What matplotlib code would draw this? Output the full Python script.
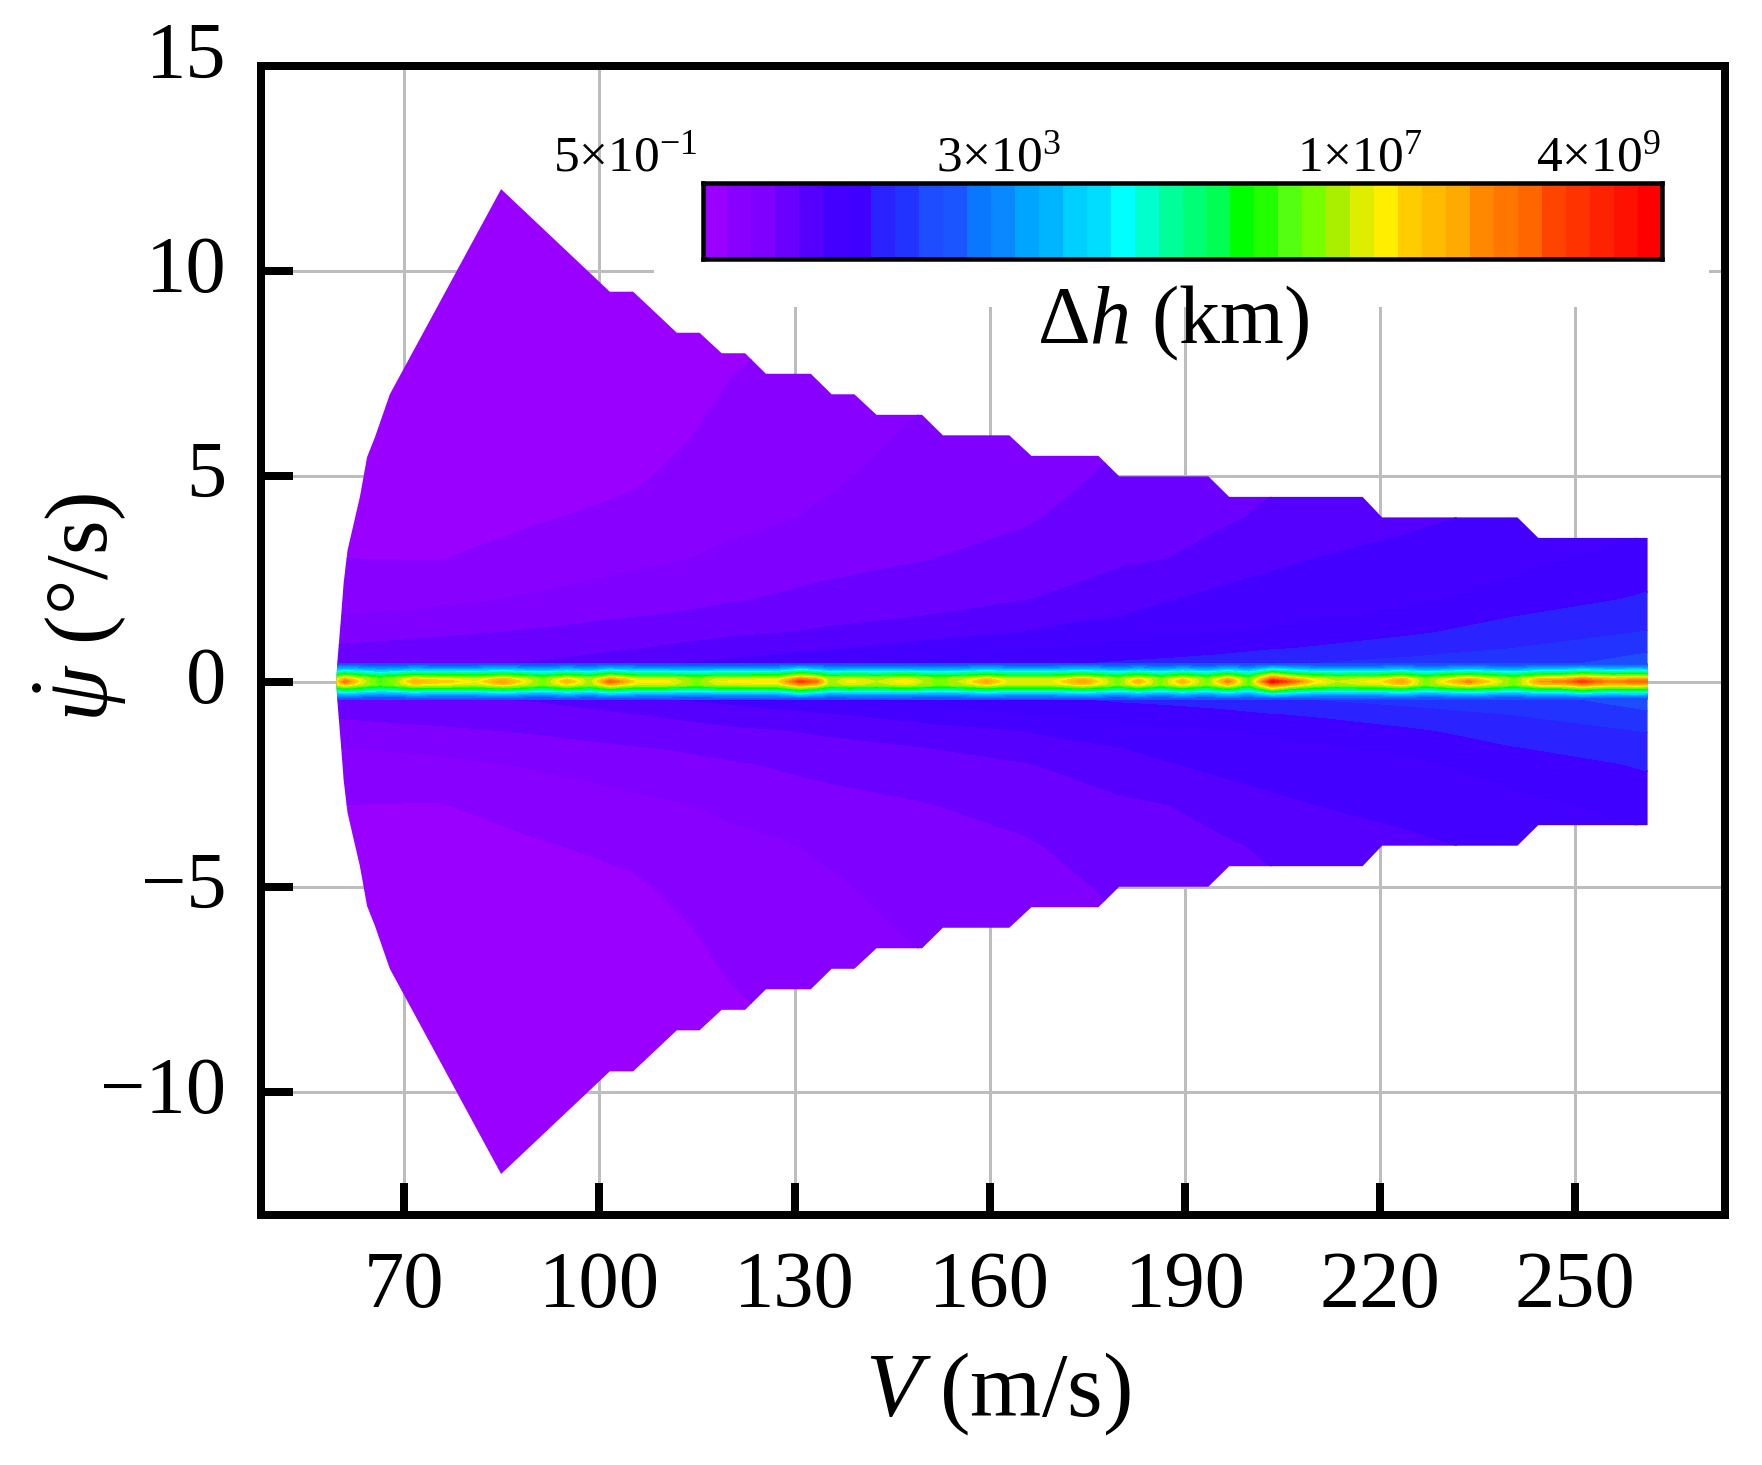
import numpy as np
import matplotlib
matplotlib.use('Agg')
import matplotlib.pyplot as plt
from matplotlib.colors import ListedColormap, BoundaryNorm
from matplotlib.patches import Polygon, Rectangle
from matplotlib.transforms import ScaledTranslation

plt.rcParams['font.family'] = ['Liberation Serif', 'DejaVu Serif']
plt.rcParams['mathtext.fontset'] = 'custom'
plt.rcParams['mathtext.rm'] = 'Liberation Serif'
plt.rcParams['mathtext.it'] = 'Liberation Serif:italic'
plt.rcParams['mathtext.bf'] = 'Liberation Serif:bold'

#Legend colours, one per band
band_colors = ['#9900ff', '#8800ff', '#7f00ff', '#6a00ff', '#5500ff', '#4400ff', '#4000ff', '#2a22ff',
               '#2233ff', '#1e4dff', '#1a55ff', '#0a77ff', '#0a88ff', '#00a5ff', '#00b5ff', '#00d0ff',
               '#00ddff', '#00ffff', '#00ffcc', '#00ff99', '#00ff77', '#00ff55', '#00ff00', '#22ff00',
               '#55ff11', '#77ff00', '#aaee00', '#ddee00', '#ffee00', '#ffcc00', '#ffbb00', '#ffaa00',
               '#ff8800', '#ff7700', '#ff6600', '#ff4400', '#ff3300', '#ff2200', '#ff1100', '#ff0000']
log_min, log_max = -0.3, 9.6

#Edge of the flight envelope, upper half (lower half is the mirror)
edge_V = [59.6, 59.7, 60.3, 60.7, 61.3, 63.2, 64.3, 65.5, 67.8, 84.9, 101.6, 105.2, 111.9, 115.4, 118.8, 122.4,
          125.6, 132.5, 135.7, 139.2, 142.6, 149.6, 152.8, 163.0, 166.4, 176.7, 179.9, 193.6, 196.8, 217.3,
          220.3, 241.1, 244.3, 261.1]
edge_psi = [0, 0.4, 1.57, 2.4, 3.2, 4.5, 5.47, 5.95, 7.0, 12.0, 9.5, 9.5, 8.5, 8.5, 8.0, 8.0,
            7.5, 7.5, 7.0, 7.0, 6.5, 6.5, 6.0, 6.0, 5.5, 5.5, 5.0, 5.0, 4.5, 4.5,
            4.0, 4.0, 3.5, 3.5]

#Broad field away from psi=0, in legend band units
field_V = [59.5, 75, 90, 105, 112.5, 120, 127.5, 135, 150, 165, 172.5, 180, 187.5, 195, 202.5, 210, 225, 240, 261.5]
field_psi = [0.4, 0.8, 1.2, 1.6, 2, 3, 4, 5, 6, 8, 12]
field_bands = [
    [3.8, 3.9, 4.1, 4.9, 5.1, 5.3, 5.6, 5.9, 6.4, 6.9, 7.0, 7.2, 7.35, 7.5, 8.0, 8.1, 8.4, 8.6, 9.5],
    [3.15, 3.4, 3.6, 3.95, 4.2, 4.5, 4.7, 4.9, 5.4, 5.9, 6.1, 6.35, 6.5, 6.7, 6.9, 7.1, 7.6, 8.0, 8.85],
    [2.55, 2.8, 3.1, 3.45, 3.6, 3.8, 3.95, 4.15, 4.6, 5.0, 5.3, 5.6, 5.85, 5.95, 6.1, 6.4, 6.85, 7.45, 8.05],
    [2.0, 2.2, 2.6, 2.95, 3.1, 3.35, 3.5, 3.7, 4.0, 4.45, 4.75, 5.0, 5.35, 5.6, 5.8, 5.9, 6.25, 6.95, 7.6],
    [1.7, 1.8, 2.1, 2.55, 2.7, 2.9, 3.1, 3.3, 3.7, 3.95, 4.2, 4.5, 4.95, 5.25, 5.45, 5.65, 5.85, 6.45, 7.15],
    [1.0, 0.95, 1.4, 1.75, 1.95, 2.15, 2.45, 2.65, 2.95, 3.4, 3.6, 3.85, 4.0, 4.4, 4.75, 5.0, 5.35, 5.7, 6.4],
    [0.8, 0.75, 0.9, 1.25, 1.5, 1.8, 1.9, 2.15, 2.7, 2.85, 3.2, 3.5, 3.65, 3.8, 4.15, 4.55, 4.8, 5.25, 5.75],
    [0.6, 0.6, 0.7, 0.85, 1.2, 1.55, 1.7, 1.85, 2.4, 2.6, 2.85, 3.2, 3.35, 3.5, 3.8, 4.1, 4.5, 4.8, 5.4],
    [0.5, 0.5, 0.55, 0.7, 0.9, 1.3, 1.5, 1.65, 2.15, 2.35, 2.6, 2.9, 3.05, 3.2, 3.5, 3.8, 4.2, 4.5, 5.1],
    [0.3, 0.3, 0.4, 0.5, 0.65, 0.85, 1.1, 1.3, 1.7, 2.0, 2.25, 2.5, 2.65, 2.8, 3.05, 3.3, 3.8, 4.1, 4.7],
    [0.0, 0.1, 0.2, 0.3, 0.4, 0.5, 0.8, 1.0, 1.2, 1.5, 1.75, 2.0, 2.15, 2.3, 2.55, 2.8, 3.3, 3.7, 4.3],
]

#Narrow ridge along psi=0, in legend band units
ridge_V = [59.5, 60.9, 63.5, 66.3, 68.8, 71.4, 74, 77, 81, 85.2, 88, 91.4, 95, 98.6, 101.6, 105.8, 110.4, 115,
           118, 123, 127.5, 130.8, 133.4, 135.4, 138.5, 142.6, 147.2, 152.3, 156.4, 159.5, 162.6, 166.7, 169.7,
           174.4, 179.7, 182.8, 186.2, 189.6, 193.4, 196.6, 199.8, 203.4, 206.3, 209.8, 213.3, 216.9, 220,
           223.3, 226.9, 230, 233.6, 237, 240.7, 244.5, 248, 251, 255.7, 259.2, 261.5]
ridge_psi = [0, 0.07, 0.15, 0.3, 0.43]
ridge_center = [28, 34, 28, 23.5, 26, 31, 30, 29.5, 28, 32, 29, 25, 31, 26, 35, 28.5, 28.5, 25.5,
                28, 28.5, 29, 36.5, 34, 26, 28.5, 27, 29, 25, 28, 31.5, 28, 28, 28,
                32, 25, 31, 25, 31, 25, 33.5, 24, 39.5, 35, 29, 27, 28, 28.5,
                32, 25, 29, 33, 29, 25, 32, 33, 36.5, 32.5, 34.5, 34]
ridge_crest = [27, 30.5, 27, 24.5, 26, 29, 28.5, 28, 27, 30, 27.5, 25.5, 29, 26, 31, 27.5, 27.5, 25.5,
               27, 27.5, 27.5, 32.5, 30.5, 26, 27.5, 26.5, 27.5, 25.5, 27, 29.5, 27, 27, 27,
               30, 25.5, 29, 25.5, 29, 25.5, 30.5, 24.5, 34, 31, 27.5, 26.5, 27, 27.5,
               30, 25.5, 27.5, 30, 27.5, 25.5, 30, 30, 32.5, 30, 31, 30.5]
ridge_inner = [22.5, 24.5, 22.5, 21, 22, 23.5, 23, 23, 22.5, 24, 23, 21.5, 23.5, 22, 25, 22.5, 22.5, 21.5,
               22.5, 22.5, 23, 26.5, 24.5, 22, 22.5, 22, 23, 21.5, 22.5, 23.5, 22.5, 22.5, 22.5,
               24, 21.5, 23.5, 21.5, 23.5, 21.5, 24.5, 21, 29, 25, 23, 22, 22.5, 22.5,
               24, 21.5, 23, 24.5, 23, 21.5, 24, 24.5, 26.5, 24.5, 25, 24.5]
ridge_outer = [14, 15, 14, 13, 13.5, 14.5, 14, 14, 14, 15, 14, 13.5, 14.5, 13.5, 15.5, 14, 14, 13.5,
               14, 14, 14, 16.5, 15, 13.5, 14, 14, 14, 13.5, 14, 15, 14, 14, 14,
               15, 13.5, 14.5, 13.5, 14.5, 13.5, 15, 13.5, 17, 15.5, 14, 14, 14, 14,
               15, 13.5, 14, 15, 14, 13.5, 15, 15, 16, 15, 15.5, 15]
ridge_edge = 9

#Legend labels
cbar_values = [0.5, 3e3, 1e7, 4e9]
cbar_labels = [r'$5{\times}10^{-1}$', r'$3{\times}10^{3}$', r'$1{\times}10^{7}$', r'$4{\times}10^{9}$']
cbar_nudge = [-5, -8, 12, -1]

x_ticks = [70, 100, 130, 160, 190, 220, 250]
y_ticks = [-10, -5, 0, 5, 10, 15]

W, H = 1762, 1465
px = 72 / 100  #points per pixel at dpi 100

fig = plt.figure(figsize=(W / 100, H / 100), dpi=100)
ax = fig.add_axes([261 / W, 1 - 1215 / H, (1725 - 261) / W, (1215 - 66) / H])

n_band = len(band_colors)
step = (log_max - log_min) / n_band
levels = np.linspace(log_min, log_max, n_band + 1)
cmap = ListedColormap(band_colors)
norm = BoundaryNorm(levels, n_band)

#Upper half then mirrored lower half
field = log_min + step * np.array(field_bands)
f_psi = np.array(field_psi)
f_y = np.concatenate([-f_psi[::-1], f_psi])
f_z = np.vstack([field[::-1], field])

r_rows = [ridge_center, ridge_crest, ridge_inner, ridge_outer, np.full(len(ridge_V), ridge_edge)]
ridge = log_min + step * np.array(r_rows, dtype=float)
r_psi = np.array(ridge_psi)
r_y = np.concatenate([-r_psi[:0:-1], r_psi])
r_z = np.vstack([ridge[:0:-1], ridge])

cs1 = ax.contourf(field_V, f_y, f_z, levels=levels, cmap=cmap, norm=norm, zorder=1)
cs2 = ax.contourf(ridge_V, r_y, r_z, levels=levels[ridge_edge:], cmap=cmap, norm=norm, zorder=1.1)

#Clip both layers to the envelope
ev = np.array(edge_V)
ep = np.array(edge_psi)
verts = np.column_stack([np.concatenate([ev, ev[::-1]]), np.concatenate([ep, -ep[::-1]])])
clip = Polygon(verts, closed=True, transform=ax.transData)
cs1.set_clip_path(clip)
cs2.set_clip_path(clip)

ax.set_xlim(48, 273)
ax.set_ylim(-13, 15)
ax.set_xticks(x_ticks)
ax.set_yticks(y_ticks)
ax.set_axisbelow(True)
ax.grid(True, color='#bdbdbd', linewidth=3 * px)
ax.tick_params(axis='both', direction='in', length=32 * px, width=8 * px, labelsize=58, top=False, right=False)
ax.tick_params(axis='x', pad=26)
ax.tick_params(axis='y', pad=25)
for s in ax.spines.values():
    s.set_linewidth(8 * px)
    s.set_zorder(5)

#y tick labels sit a little above their ticks, the top one more
fig.canvas.draw()
for v, lab in zip(y_ticks, ax.get_yticklabels()):
    up = 16 if v == 15 else 7
    lab.set_transform(lab.get_transform() + ScaledTranslation(0, up / 100, fig.dpi_scale_trans))

#White legend background hides the grid
x0, x1 = (654 - 261) / 1464, (1709 - 261) / 1464
y0 = (1215 - 307) / 1149
ax.add_patch(Rectangle((x0, y0), x1 - x0, 1 - y0, transform=ax.transAxes, facecolor='white',
                       edgecolor='none', zorder=1.5))

ax.set_xlabel(r'$V\;$(m/s)', fontsize=66)
ax.xaxis.set_label_coords(0.503, -0.118)
ax.set_ylabel(r'$\dot{\psi}$ (°/s)', fontsize=64)
ax.yaxis.set_label_coords(-0.090, 0.529)

#Legend bar
cax = fig.add_axes([703 / W, 1 - 259 / H, (1662 - 703) / W, 76 / H], zorder=6)
cax.pcolormesh(levels, [0, 1], ((levels[:-1] + levels[1:]) / 2)[None, :], cmap=cmap, norm=norm)
cax.set_yticks([])
cax.set_xticks([])
cax.set_xlim(log_min, log_max)
for s in cax.spines.values():
    s.set_linewidth(4.5 * px)
for v, lab, dx in zip(cbar_values, cbar_labels, cbar_nudge):
    cax.annotate(lab, xy=(np.log10(v), 1), xycoords=('data', 'axes fraction'), xytext=(dx * px, 12 * px),
                 textcoords='offset points', ha='right', va='baseline', fontsize=37)

fig.text(1173 / W, 1 - 343 / H, r'$\Delta h$ (km)', fontsize=59, ha='center', va='baseline')

fig.savefig('out.png', dpi=100)
